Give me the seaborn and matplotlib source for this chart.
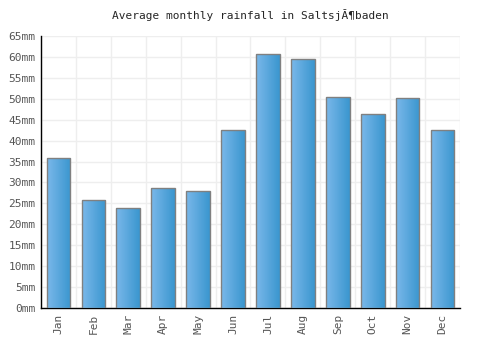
import matplotlib
matplotlib.use("Agg")
import matplotlib.pyplot as plt
import seaborn as sns
import numpy as np
from matplotlib.colors import LinearSegmentedColormap

months = ["Jan", "Feb", "Mar", "Apr", "May", "Jun",
          "Jul", "Aug", "Sep", "Oct", "Nov", "Dec"]
rainfall = [35.8, 25.8, 23.9, 28.7, 28.0, 42.5, 60.6, 59.4, 50.5, 46.3, 50.3, 42.5]
y_ticks = list(range(0, 70, 5))

sns.set_style("white")
plt.rcParams["font.family"] = ["DejaVu Sans Mono"]

fig = plt.figure(figsize=(5, 3.5), dpi=100)
ax = fig.add_axes([0.082, 0.12, 0.838, 0.777])

sns.barplot(x=months, y=rainfall, color="#4a9fdc", width=0.68,
            edgecolor="#808080", linewidth=1, ax=ax, zorder=3)

# horizontal gradient inside each bar
grad = LinearSegmentedColormap.from_list("g", ["#7ab8ea", "#3a96cf"])
gimg = np.linspace(0, 1, 64).reshape(1, -1)
for p in ax.patches:
    x0, y0 = p.get_x(), p.get_y()
    w, h = p.get_width(), p.get_height()
    im = ax.imshow(gimg, cmap=grad, aspect="auto", extent=[x0, x0 + w, y0, y0 + h],
                   zorder=3.5, interpolation="bilinear")
    im.set_clip_path(p)
    p.set_facecolor("none")
    p.set_zorder(4)

ax.set_xlim(-0.5, 11.5)
ax.set_ylim(0, 65)
ax.set_yticks(y_ticks)
ax.set_yticklabels([f"{v}mm" for v in y_ticks], fontsize=8, color="#555555")
ax.set_xticks(range(12))
ax.set_xticklabels(months, rotation=90, fontsize=8, color="#555555")
ax.tick_params(length=0, pad=4)

ax.set_xticks(np.arange(-0.5, 12, 1), minor=True)
ax.grid(True, axis="y", color="#eeeeee", linewidth=1, zorder=0)
ax.grid(True, axis="x", which="minor", color="#eeeeee", linewidth=1, zorder=0)
ax.grid(False, axis="x", which="major")

for s in ["top", "right"]:
    ax.spines[s].set_visible(False)
ax.spines["left"].set_color("black")
ax.spines["bottom"].set_color("black")
ax.spines["left"].set_linewidth(1)
ax.spines["bottom"].set_linewidth(1)

ax.set_title("Average monthly rainfall in SaltsjĂ¶baden", fontsize=8, pad=12)

fig.savefig("out.png", dpi=100)
